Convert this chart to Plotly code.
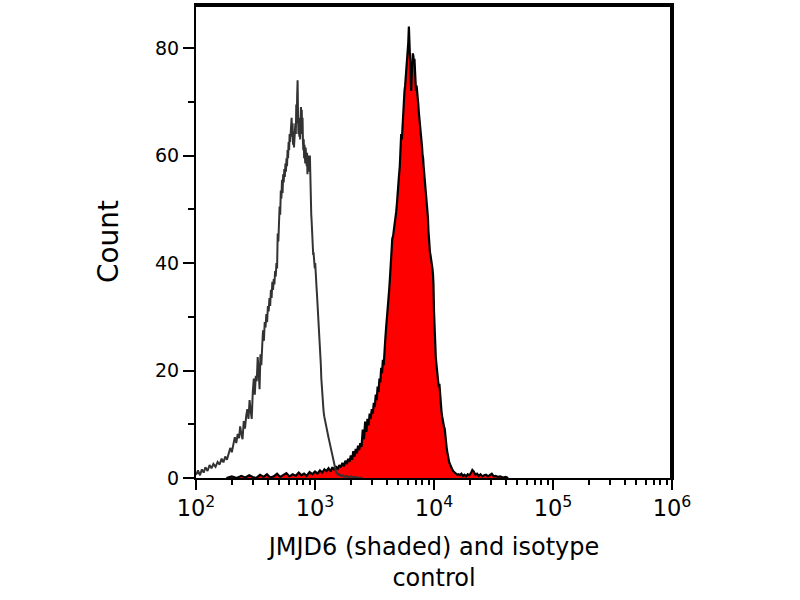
import plotly.graph_objects as go

# isotype control (open histogram)
iso_x = [100, 104, 108, 112, 116, 120, 125, 130, 135, 140,
         146, 152, 158, 164, 170, 176, 182, 188, 194, 200,
         206, 212, 218, 224, 230, 235, 240, 246, 252, 258,
         264, 270, 276, 282, 288, 294, 300, 306, 312, 318,
         324, 330, 336, 342, 348, 354, 360, 366, 372, 378,
         384, 390, 396, 402, 408, 414, 420, 426, 432, 438,
         444, 450, 456, 462, 468, 474, 480, 486, 492, 498,
         504, 510, 516, 522, 528, 534, 540, 546, 552, 558,
         564, 570, 576, 582, 588, 594, 600, 606, 612, 618,
         624, 630, 636, 642, 648, 654, 660, 666, 672, 678,
         684, 690, 696, 702, 708, 714, 720, 726, 732, 738,
         744, 750, 756, 762, 768, 774, 780, 786, 792, 798,
         804, 810, 816, 822, 828, 834, 840, 846, 852, 858,
         864, 870, 876, 882, 888, 894, 900, 906, 912, 918,
         924, 930, 936, 942, 948, 954, 960, 966, 972, 980,
         988, 996, 1004, 1012, 1020, 1030, 1040, 1050, 1060, 1070,
         1080, 1090, 1100, 1110, 1120, 1130, 1140, 1150, 1160, 1170,
         1180, 1195, 1210, 1225, 1240, 1255, 1270, 1285, 1300, 1315,
         1330, 1345, 1360, 1375, 1390, 1405, 1420, 1440, 1460, 1480,
         1500, 1530, 1560, 1600, 1650, 1700, 1760, 1830, 1900, 2000,
         2100, 2200, 2300, 2500]
iso_count = [0.6, 1.4, 0.5, 1.6, 1.0, 2.0, 1.3, 2.4, 1.8, 2.6,
             2.1, 3.0, 2.5, 3.6, 2.9, 4.0, 3.4, 4.6, 5.6, 4.8,
             6.4, 7.6, 6.5, 8.2, 7.4, 9.6, 8.3, 7.2, 10.6, 9.2,
             11.5, 12.8, 11.0, 14.5, 12.5, 11.0, 16.0, 18.5, 15.5, 19.0,
             18.0, 22.5, 20.0, 16.5, 23.0, 21.0, 24.5, 27.5, 25.5, 29.0,
             28.0, 30.5, 29.0, 32.0, 31.0, 33.5, 32.0, 35.0, 33.5, 36.5,
             35.0, 37.0, 36.0, 38.5, 37.5, 40.0, 39.0, 45.5, 44.0, 48.5,
             50.5, 49.0, 53.5, 52.0, 55.5, 53.0, 56.5, 55.0, 57.5, 56.0,
             58.5, 57.0, 59.5, 58.0, 61.0, 59.5, 62.5, 61.0, 64.0, 62.5,
             65.5, 64.0, 67.0, 63.5, 66.0, 62.0, 64.5, 61.5, 63.0, 62.5,
             66.0, 64.0, 69.5, 66.0, 71.0, 74.0, 68.0, 64.0, 66.5, 63.5,
             67.0, 63.0, 66.5, 69.0, 65.5, 68.5, 64.0, 67.0, 62.5, 61.0,
             63.0, 59.5, 62.0, 60.0, 58.5, 61.5, 59.0, 61.5, 58.0, 60.5,
             56.5, 59.0, 57.5, 60.0, 58.0, 59.5, 57.0, 60.0, 55.0, 53.0,
             51.0, 49.0, 48.0, 46.0, 45.5, 43.0, 43.5, 41.5, 42.0, 40.5,
             41.5, 39.0, 40.0, 37.5, 38.5, 35.5, 34.0, 32.5, 31.0, 30.0,
             28.5, 27.5, 26.0, 23.0, 21.0, 18.5, 17.0, 15.5, 14.0, 13.0,
             12.5, 11.5, 11.0, 10.5, 10.0, 9.0, 8.5, 8.0, 7.5, 7.0,
             6.5, 5.8, 5.0, 4.4, 4.0, 3.5, 3.0, 2.5, 2.0, 1.6,
             1.2, 0.9, 0.6, 0.7, 0.4, 0.5, 0.2, 0.4, 0.1, 0.3,
             0.1, 0.2, 0.0, 0.1]

# JMJD6 stained (shaded histogram)
jmjd6_x = [180, 200, 220, 240, 260, 280, 300, 320, 345, 370,
           395, 420, 450, 480, 510, 540, 575, 610, 650, 690,
           730, 770, 810, 850, 900, 950, 1000, 1050, 1100, 1150,
           1200, 1250, 1300, 1350, 1400, 1450, 1500, 1550, 1600, 1650,
           1700, 1750, 1800, 1850, 1900, 1950, 2000, 2050, 2100, 2150,
           2200, 2250, 2300, 2350, 2400, 2460, 2520, 2580, 2640, 2700,
           2760, 2820, 2880, 2940, 3000, 3060, 3120, 3180, 3240, 3300,
           3360, 3420, 3480, 3540, 3600, 3660, 3720, 3780, 3840, 3900,
           3960, 4020, 4080, 4140, 4200, 4260, 4320, 4390, 4460, 4530,
           4600, 4670, 4740, 4810, 4880, 4950, 5020, 5090, 5160, 5230,
           5300, 5370, 5440, 5510, 5580, 5650, 5720, 5800, 5870, 5940,
           6010, 6080, 6150, 6220, 6290, 6360, 6430, 6500, 6570, 6640,
           6710, 6780, 6850, 6920, 6990, 7060, 7140, 7220, 7300, 7380,
           7460, 7540, 7620, 7700, 7780, 7860, 7940, 8020, 8100, 8180,
           8260, 8350, 8440, 8530, 8620, 8710, 8800, 8890, 8980, 9070,
           9160, 9250, 9340, 9430, 9520, 9610, 9700, 9800, 9900, 10000,
           10100, 10200, 10350, 10500, 10650, 10800, 10950, 11100, 11250, 11400,
           11550, 11700, 11850, 12000, 12150, 12300, 12450, 12600, 12750, 12900,
           13050, 13200, 13400, 13600, 13800, 14000, 14300, 14600, 14900, 15300,
           15700, 16100, 16500, 17000, 17500, 18000, 18600, 19200, 19800, 20400,
           21000, 21600, 22300, 23000, 23800, 24600, 25500, 26400, 27400, 28400,
           29500, 30600, 31800, 33000, 34500, 36000, 38000, 40000, 42000]
jmjd6_count = [0.0, 0.3, 0.0, 0.4, 0.1, 0.5, 0.2, 0.0, 0.6, 0.2,
               0.7, 0.1, 0.3, 0.8, 0.2, 0.5, 0.9, 0.3, 0.7, 0.4,
               1.0, 0.5, 0.8, 0.4, 1.1, 0.7, 1.2, 0.8, 1.4, 1.0,
               1.6, 1.3, 1.8, 1.2, 2.0, 1.5, 2.2, 1.6, 2.4, 2.0,
               2.8, 2.2, 3.2, 2.6, 3.6, 3.0, 4.2, 3.4, 5.0, 4.0,
               5.4, 4.6, 6.0, 5.2, 6.5, 5.8, 9.0, 7.2, 10.5, 8.6,
               11.0, 9.8, 12.0, 11.0, 12.8, 12.0, 14.0, 13.2, 15.5, 14.5,
               17.0, 16.0, 18.5, 17.8, 20.5, 19.5, 22.0, 21.0, 24.5, 26.0,
               28.0, 29.5, 31.0, 32.5, 35.0, 37.0, 39.5, 43.0, 44.5, 45.0,
               46.0, 47.5, 48.5, 49.5, 51.0, 53.5, 55.0, 56.5, 58.0, 61.0,
               64.0, 63.0, 66.0, 69.0, 70.5, 72.0, 73.0, 74.5, 76.0, 77.0,
               79.0, 81.0, 84.0, 80.0, 76.0, 73.5, 72.0, 75.0, 77.5, 79.0,
               78.5, 77.0, 78.0, 76.5, 74.0, 72.0, 73.0, 71.0, 71.5, 69.5,
               68.0, 67.0, 66.5, 65.0, 64.0, 62.5, 61.5, 60.0, 59.5, 58.0,
               57.0, 55.5, 54.5, 53.5, 52.0, 51.5, 50.0, 48.5, 46.0, 43.5,
               42.5, 42.0, 41.5, 41.0, 40.5, 40.0, 39.0, 38.0, 36.0, 31.0,
               27.0, 25.0, 22.5, 21.0, 19.5, 18.0, 17.0, 17.5, 15.0, 13.5,
               12.5, 11.5, 10.5, 10.0, 9.5, 9.2, 7.5, 6.5, 5.8, 5.0,
               4.2, 3.8, 3.0, 2.6, 2.2, 1.8, 1.5, 1.2, 1.0, 0.8,
               0.6, 0.7, 0.5, 0.8, 0.4, 0.6, 0.3, 0.7, 0.5, 0.9,
               1.5, 1.2, 0.6, 0.8, 0.4, 0.7, 0.3, 0.5, 0.6, 0.3,
               0.5, 0.8, 0.3, 0.4, 0.2, 0.3, 0.1, 0.2, 0.0]

fig = go.Figure()

# shaded histogram first, isotype outline on top
fig.add_trace(go.Scatter(
    x=jmjd6_x, y=jmjd6_count,
    mode='lines', fill='tozeroy', fillcolor='#ff0000',
    line=dict(color='black', width=2.2),
    name='JMJD6'
))
fig.add_trace(go.Scatter(
    x=iso_x, y=iso_count,
    mode='lines',
    line=dict(color='#333333', width=2),
    name='isotype control'
))

fig.update_layout(
    width=800, height=600,
    margin=dict(l=196, r=128, t=3, b=122),
    plot_bgcolor='white', paper_bgcolor='white',
    showlegend=False,
    font=dict(family='DejaVu Sans', color='black'),
    # thick top/right frame
    shapes=[
        dict(type='line', xref='paper', yref='paper', x0=0, x1=1, y0=1, y1=1,
             line=dict(color='black', width=4), layer='above'),
        dict(type='line', xref='paper', yref='paper', x0=1, x1=1, y0=0, y1=1,
             line=dict(color='black', width=4), layer='above'),
    ]
)

fig.update_xaxes(
    type='log', range=[2, 6], dtick=1,
    exponentformat='power', showexponent='all',
    showgrid=False, zeroline=False,
    showline=True, linecolor='black', linewidth=2, mirror=True,
    ticks='outside', ticklen=10, tickwidth=2, tickcolor='black',
    tickfont=dict(size=18),
    minor=dict(ticks='outside', ticklen=5, tickwidth=1.5, tickcolor='black',
               dtick='D1', showgrid=False),
    title=dict(text='JMJD6 (shaded) and isotype<br>control',
               font=dict(size=24), standoff=18)
)

fig.update_yaxes(
    range=[0, 88], dtick=20,
    showgrid=False, zeroline=False,
    showline=True, linecolor='black', linewidth=2, mirror=True,
    ticks='outside', ticklen=11, tickwidth=2, tickcolor='black',
    tickfont=dict(size=19),
    minor=dict(ticks='outside', ticklen=6, tickwidth=1.5, tickcolor='black',
               dtick=10, showgrid=False),
    title=dict(text='Count', font=dict(size=28), standoff=28)
)

# drop the default page margin so the figure sits at the window origin
fig.write_html("out.html", config={'displayModeBar': False},
               post_script="document.body.style.margin='0';")
